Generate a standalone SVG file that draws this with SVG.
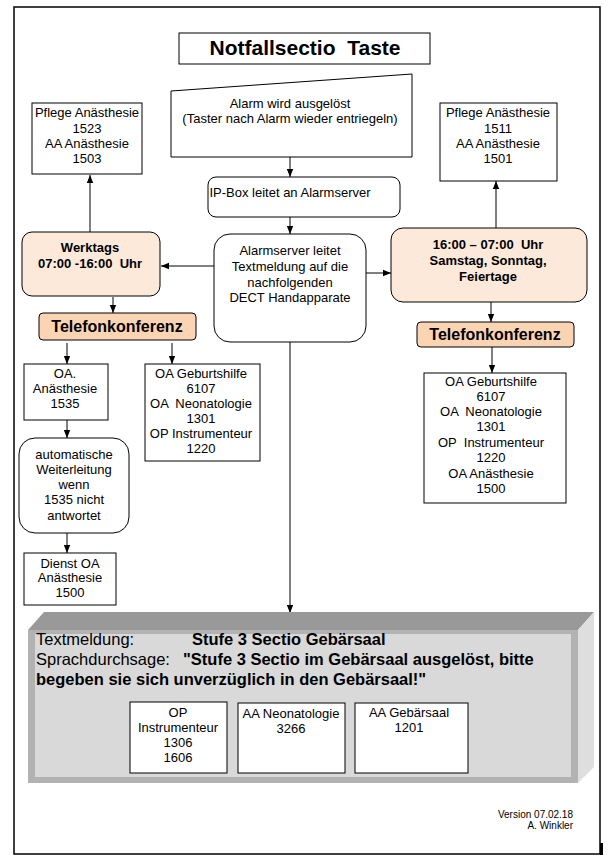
<svg xmlns="http://www.w3.org/2000/svg" width="615" height="867" viewBox="0 0 615 867">
<style>
text{font-family:"Liberation Sans",Arial,sans-serif;fill:#000;}
.t{font-size:13px;text-anchor:middle;}
.b{font-size:13px;font-weight:bold;text-anchor:middle;}
.tk{font-size:16px;font-weight:bold;text-anchor:middle;}
.big{font-size:16.5px;}
.box{fill:#fff;stroke:#000;stroke-width:1;}
.peach{fill:#fde9d9;stroke:#000;stroke-width:1;}
.peach2{fill:#fbd4b4;stroke:#000;stroke-width:1;}
.ln{stroke:#000;stroke-width:1;fill:none;}
</style>
<defs>
<marker id="ah" markerUnits="userSpaceOnUse" markerWidth="8" markerHeight="8" viewBox="0 0 8 8" refX="8" refY="4" orient="auto">
<path d="M0,0.8 L8,4 L0,7.2 Z" fill="#000"/>
</marker>
</defs>
<rect x="0" y="0" width="615" height="867" fill="#fff"/>
<rect x="600" y="843" width="3" height="12" fill="#000"/>
<rect id="frame" x="14" y="7" width="586" height="847" fill="#fff" stroke="#000" stroke-width="1.5"/>

<g id="connectors">
<line class="ln" x1="290" y1="157" x2="290" y2="177" marker-end="url(#ah)"/>
<line class="ln" x1="290" y1="217" x2="290" y2="234" marker-end="url(#ah)"/>
<line class="ln" x1="214" y1="266" x2="161" y2="266" marker-end="url(#ah)"/>
<line class="ln" x1="366" y1="273" x2="391" y2="273" marker-end="url(#ah)"/>
<line class="ln" x1="90" y1="232" x2="90" y2="175" marker-end="url(#ah)"/>
<line class="ln" x1="496" y1="228" x2="496" y2="181" marker-end="url(#ah)"/>
<line class="ln" x1="113" y1="297" x2="113" y2="313" marker-end="url(#ah)"/>
<line class="ln" x1="491" y1="302" x2="491" y2="322" marker-end="url(#ah)"/>
<line class="ln" x1="67" y1="343" x2="67" y2="364" marker-end="url(#ah)"/>
<line class="ln" x1="172" y1="343" x2="172" y2="364" marker-end="url(#ah)"/>
<line class="ln" x1="492" y1="347" x2="492" y2="373" marker-end="url(#ah)"/>
<line class="ln" x1="67" y1="420" x2="67" y2="438" marker-end="url(#ah)"/>
<line class="ln" x1="67" y1="533" x2="67" y2="553" marker-end="url(#ah)"/>
<line class="ln" x1="290" y1="342" x2="290" y2="613" marker-end="url(#ah)"/>
</g>

<g id="title">
<rect class="box" x="179" y="33" width="251" height="31"/>
<text x="305" y="55" style="font-size:21px;font-weight:bold;text-anchor:middle" xml:space="preserve">Notfallsectio  Taste</text>
</g>

<g id="alarm">
<polygon class="box" points="171,91 412,74 412,157 171,157"/>
<text class="t" x="290" y="107.5">Alarm wird ausgelöst</text>
<text class="t" x="290" y="122.5">(Taster nach Alarm wieder entriegeln)</text>
</g>

<g id="ipbox">
<rect class="box" x="208" y="177" width="192" height="40" rx="8"/>
<text class="t" x="290" y="196.5">IP-Box leitet an Alarmserver</text>
</g>

<g id="alarmserver">
<rect class="box" x="214" y="234" width="152" height="108" rx="16"/>
<text class="t" x="290" y="255">Alarmserver leitet</text>
<text class="t" x="290" y="271">Textmeldung auf die</text>
<text class="t" x="290" y="286.5">nachfolgenden</text>
<text class="t" x="290" y="302">DECT Handapparate</text>
</g>

<g id="pflege-left">
<rect class="box" x="32" y="103" width="110" height="71"/>
<text class="t" x="87" y="117">Pflege Anästhesie</text>
<text class="t" x="87" y="132.5">1523</text>
<text class="t" x="87" y="147.5">AA Anästhesie</text>
<text class="t" x="87" y="162.5">1503</text>
</g>

<g id="pflege-right">
<rect class="box" x="440" y="103" width="117" height="78"/>
<text class="t" x="498" y="117">Pflege Anästhesie</text>
<text class="t" x="498" y="132.5">1511</text>
<text class="t" x="498" y="147.5">AA Anästhesie</text>
<text class="t" x="498" y="162.5">1501</text>
</g>

<g id="werktags">
<rect class="peach" x="22" y="232" width="138" height="64" rx="10"/>
<text class="b" x="90" y="251.5">Werktags</text>
<text class="b" x="90" y="267.5" xml:space="preserve">07:00 -16:00  Uhr</text>
</g>

<g id="wochenende">
<rect class="peach" x="391" y="228" width="196" height="74" rx="12"/>
<text class="b" x="488" y="248.5" xml:space="preserve">16:00 – 07:00  Uhr</text>
<text class="b" x="488" y="264.5">Samstag, Sonntag,</text>
<text class="b" x="488" y="280.5">Feiertage</text>
</g>

<g id="tk-left">
<rect class="peach2" x="39" y="313" width="157" height="27" rx="4"/>
<text class="tk" x="117" y="332">Telefonkonferenz</text>
</g>

<g id="tk-right">
<rect class="peach2" x="417" y="322" width="157" height="25" rx="4"/>
<text class="tk" x="495" y="340">Telefonkonferenz</text>
</g>

<g id="oa-anaesthesie">
<rect class="box" x="24" y="364" width="84" height="56"/>
<text class="t" x="65" y="377.5">OA.</text>
<text class="t" x="65" y="392.5">Anästhesie</text>
<text class="t" x="65" y="407.5">1535</text>
</g>

<g id="oa-left-list">
<rect class="box" x="145" y="364" width="115" height="97"/>
<text class="t" x="201" y="377.5">OA Geburtshilfe</text>
<text class="t" x="201" y="392.5">6107</text>
<text class="t" x="201" y="407.5" xml:space="preserve">OA  Neonatologie</text>
<text class="t" x="201" y="422.5">1301</text>
<text class="t" x="201" y="437.5">OP Instrumenteur</text>
<text class="t" x="201" y="452.5">1220</text>
</g>

<g id="weiterleitung">
<rect class="box" x="19" y="438" width="110" height="95" rx="16"/>
<text class="t" x="74" y="458.5">automatische</text>
<text class="t" x="74" y="473.5">Weiterleitung</text>
<text class="t" x="74" y="488.5">wenn</text>
<text class="t" x="74" y="504">1535 nicht</text>
<text class="t" x="74" y="519.5">antwortet</text>
</g>

<g id="dienst-oa">
<rect class="box" x="24" y="553" width="92" height="52"/>
<text class="t" x="70" y="567.5">Dienst OA</text>
<text class="t" x="70" y="581.5">Anästhesie</text>
<text class="t" x="70" y="596.5">1500</text>
</g>

<g id="oa-right-list">
<rect class="box" x="424" y="373" width="142" height="130"/>
<text class="t" x="491" y="386">OA Geburtshilfe</text>
<text class="t" x="491" y="401">6107</text>
<text class="t" x="491" y="416" xml:space="preserve">OA  Neonatologie</text>
<text class="t" x="491" y="431">1301</text>
<text class="t" x="491" y="446.5" xml:space="preserve">OP  Instrumenteur</text>
<text class="t" x="491" y="462">1220</text>
<text class="t" x="491" y="477.5">OA Anästhesie</text>
<text class="t" x="491" y="493">1500</text>
</g>

<g id="meldung">
<polygon points="28,630 44,612 594,612 578,630" fill="#999999"/>
<polygon points="578,630 594,612 594,767 578,783" fill="#dedede"/>
<rect x="28" y="630" width="550" height="153" fill="#b2b2b2"/>
<rect x="35" y="634" width="536" height="143" fill="#d9d9d9"/>
<text class="big" x="36" y="645">Textmeldung:</text>
<text class="big" x="192" y="645" font-weight="bold">Stufe 3 Sectio Gebärsaal</text>
<text class="big" x="36" y="665">Sprachdurchsage:</text>
<text class="big" x="183" y="665" font-weight="bold">"Stufe 3 Sectio im Gebärsaal ausgelöst, bitte</text>
<text class="big" x="36" y="685" font-weight="bold">begeben sie sich unverzüglich in den Gebärsaal!"</text>
</g>

<g id="op-instrumenteur">
<rect class="box" x="130" y="702" width="97" height="71"/>
<text class="t" x="178" y="716.5">OP</text>
<text class="t" x="178" y="732">Instrumenteur</text>
<text class="t" x="178" y="746.5">1306</text>
<text class="t" x="178" y="761.5">1606</text>
</g>

<g id="aa-neonatologie">
<rect class="box" x="238" y="703" width="107" height="70"/>
<text class="t" x="291" y="717.5">AA Neonatologie</text>
<text class="t" x="291" y="732.5">3266</text>
</g>

<g id="aa-gebaersaal">
<rect class="box" x="355" y="703" width="113" height="70"/>
<text class="t" x="409" y="716.5">AA Gebärsaal</text>
<text class="t" x="409" y="731.5">1201</text>
</g>

<g id="version">
<text x="573" y="818" style="font-size:10px;text-anchor:end">Version 07.02.18</text>
<text x="573" y="829" style="font-size:10px;text-anchor:end">A. Winkler</text>
</g>
</svg>
